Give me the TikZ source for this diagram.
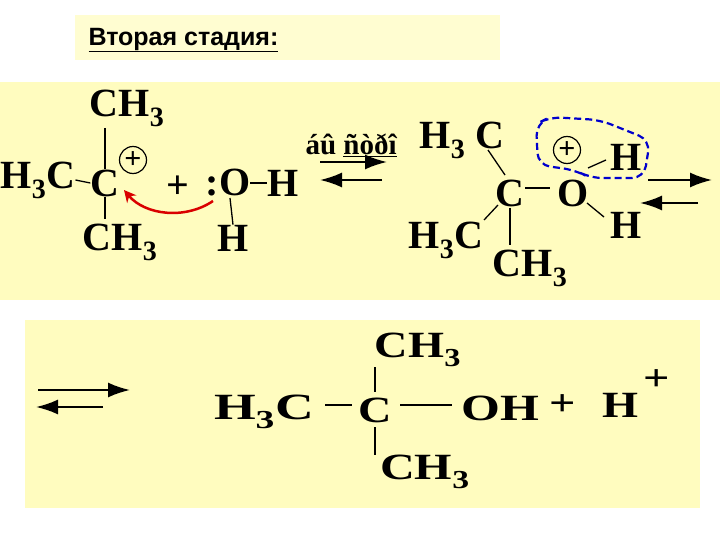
\documentclass[tikz,border=0pt]{standalone}
\usepackage{fontspec}
\usetikzlibrary{arrows.meta}
\setmainfont{Liberation Serif}
\newfontfamily\lsans{Liberation Sans}
\begin{document}
\begin{tikzpicture}[x=1pt,y=-1pt,
  ch/.style={font=\fontsize{40}{40}\selectfont\bfseries, inner sep=0pt},
  chb/.style={font=\fontsize{37}{37}\selectfont\bfseries, inner sep=0pt},
  bd/.style={line width=1.3pt},
  pc/.style={circle,draw,line width=1.2pt,minimum size=27pt,inner sep=0pt,font=\fontsize{30}{30}\selectfont\bfseries},
  arr/.style={line width=2pt,-{Latex[length=22pt,width=15pt]}}]
\useasboundingbox (0,0) rectangle (720,540);
\fill[white] (0,0) rectangle (720,540);
\fill[yellow!18] (75,15) rectangle (500,60);
\fill[yellow!25] (0,82) rectangle (720,300);
\fill[yellow!25] (25,320) rectangle (700,508);
\node[font=\lsans\fontsize{25}{25}\selectfont\bfseries, anchor=west] (title) at (85,40) {\underline{Вторая стадия:}};
% left molecule
\node[ch] (ch3a) at (127,108) {CH$_{\mathbf 3}$};
\node[ch] (h3ca) at (38,180) {H$_{\mathbf 3}$C};
\node[ch] (ca) at (105,183) {C};
\node[pc] (pa) at (133,160) {+};
\node[ch] (ch3b) at (120,242) {CH$_{\mathbf 3}$};
\draw[bd] (h3ca.east) -- (ca.west);
\draw[bd] (105,128) -- (ca.north);
\draw[bd] (ca.south) -- ++(0,22) coordinate (b1);
\node[ch] (plus1) at (178,187) {+};
\node[ch] (oa) at (228,183) {:O};
\node[ch] (ha) at (283,183) {H};
\draw[bd] (oa.east) -- (ha.west);
\node[ch] (hb) at (233,238) {H};
\draw[bd] (230,198) -- (hb.north);
\draw[red!85!black,line width=2.5pt,-{Stealth[length=12pt,width=12pt]}] (213,201) .. controls (185,220) and (145,215) .. (124,190);
% middle
\node[font=\fontsize{29}{29}\selectfont\bfseries, anchor=west] (bys) at (302,145) {áû \underline{ñòðî}};
\draw[arr] (320,162) -- (387,162);
\draw[arr] (382,180) -- (320,180);
% right molecule
\node[ch] (h3cr1) at (462,140) {H$_{\mathbf 3}$ C};
\node[ch] (cr) at (510,193) {C};
\node[ch] (or) at (573,193) {O};
\node[ch] (hr1) at (626,157) {H};
\node[ch] (hr2) at (626,225) {H};
\node[ch] (h3cr2) at (446,240) {H$_{\mathbf 3}$C};
\node[ch] (ch3r) at (530,268) {CH$_{\mathbf 3}$};
\node[pc] (pr) at (567,150) {+};
\draw[bd] (488,150) -- (505,175);
\draw[bd] (525,188) -- (550,188);
\draw[bd] (498,205) -- (484,220);
\draw[bd] (510,208) -- (510,245);
\draw[bd] (588,168) -- (606,160);
\draw[bd] (587,203) -- (604,217);
\draw[blue!80!black,line width=2.2pt,dash pattern=on 7pt off 4pt,rounded corners=12pt] (536,124) -- (550,117) -- (600,120) -- (650,140) -- (644,178) -- (590,178) -- (575,170) -- (538,165) -- cycle;
\draw[arr] (648,180) -- (712,180);
\draw[arr] (698,203) -- (640,203);
% bottom
\draw[arr] (38,390) -- (130,390);
\draw[arr] (103,407) -- (36,407);
\node[chb] (ch3c) at (418,350) {\scalebox{1.25}[1]{CH$_{\mathbf 3}$}};
\node[chb] (h3cc) at (264,412) {\scalebox{1.45}[1]{H$_{\mathbf 3}$C}};
\node[chb] (cc) at (375,410) {\scalebox{1.25}[1]{C}};
\node[chb] (ohc) at (500,408) {\scalebox{1.35}[1]{OH}};
\node[chb] (plc) at (563,405) {\scalebox{1.25}[1]{+}};
\node[chb] (hc) at (620,405) {\scalebox{1.25}[1]{H}};
\node[chb] (hp) at (657,380) {\scalebox{1.25}[1]{+}};
\node[chb] (ch3d) at (425,472) {\scalebox{1.3}[1]{CH$_{\mathbf 3}$}};
\draw[bd] (325,405) -- (352,405);
\draw[bd] (400,405) -- (452,405);
\draw[bd] (375,367) -- (375,392);
\draw[bd] (375,427) -- (375,455);
\end{tikzpicture}
\end{document}
